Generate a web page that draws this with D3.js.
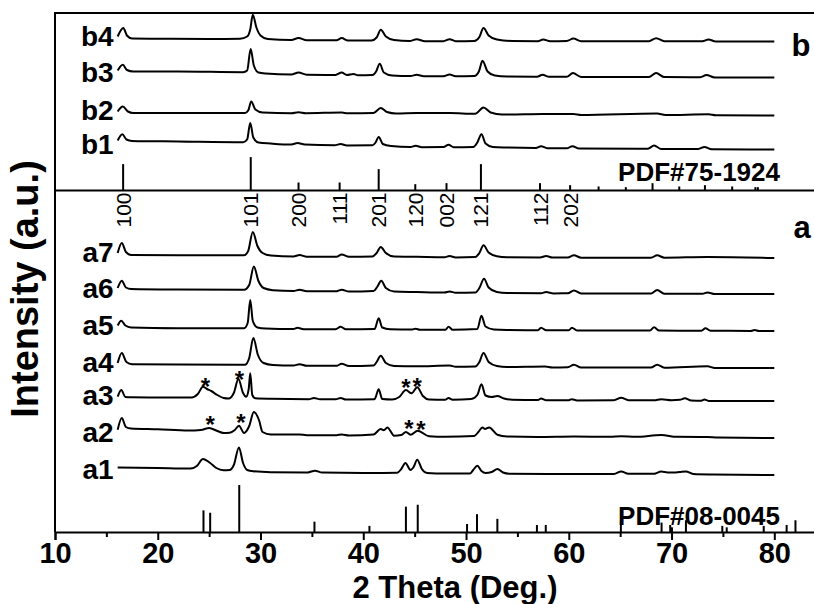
<!DOCTYPE html>
<html>
<head>
<meta charset="utf-8">
<script src="https://cdnjs.cloudflare.com/ajax/libs/d3/7.8.5/d3.min.js"></script>
<style>
  body { margin: 0; background: #fff; }
  text { font-family: "Liberation Sans", Arial, sans-serif; fill: #000; }
</style>
</head>
<body>
<div id="viz"></div>
<script>
// XRD patterns, stacked: [2theta, intensity above own offset]

const topNames = ['b1', 'b2', 'b3', 'b4'];
const topOffsets = [41, 75, 113, 149];

const b1 = [[16.1,9],[16.55,15.3],[16.95,10],[17.5,8.6],[22,8],[28.3,7.2],[28.7,10],[29.0,26.6],[29.3,12],[29.8,7],[31,6],[33.0,5],[33.6,6.5],[34.3,5],[37.2,4.3],[37.8,5.5],[38.4,4],[40.9,4.2],[41.2,7],[41.5,12.6],[41.9,5.5],[42.7,3.5],[44.6,2.5],[45.1,3.8],[45.7,2.3],[47.8,2.5],[48.3,4.8],[48.8,2.3],[50.7,2.5],[51.1,7],[51.5,15.3],[51.9,6],[52.6,2.6],[54,2],[56.8,1.5],[57.3,3.3],[57.9,1.3],[59.8,1.2],[60.35,3.3],[61,1],[67.7,0.8],[68.3,4],[69,0.6],[72.6,0.5],[73.2,2.6],[73.9,0.3],[80,0]];
const b2 = [[16.1,4],[16.6,9],[17.1,4],[17.6,2.6],[28.5,2.6],[28.8,5],[29.1,14],[29.5,6],[30.2,3],[33.0,2.3],[33.7,3.3],[34.4,2.3],[37.9,3],[38.5,2.2],[41.0,2.5],[41.7,7.4],[42.3,3.5],[43.2,2],[45.2,2.4],[48.4,2.4],[50.9,1.8],[51.7,8],[52.4,3],[53.5,1],[57.5,1.5],[60.45,1.6],[61.2,0.6],[68.6,2],[69.4,0.5],[73.6,1.2],[74.3,0.2],[80,0]];
const b3 = [[16.1,7],[16.6,12.7],[17.0,7.5],[17.6,6],[22,6],[28.3,5.3],[28.7,7],[29.04,28.4],[29.35,12],[29.8,5],[30.5,4],[33.0,3],[33.7,5],[34.5,2.8],[37.3,2.6],[37.9,5],[38.4,2.5],[39.05,3.5],[39.5,2.3],[40.9,2.5],[41.25,6],[41.6,13.7],[42.0,5],[42.8,2],[44.6,1.5],[45.2,2.7],[45.9,1.3],[47.8,1.3],[48.4,3],[49.0,1.2],[50.8,1.5],[51.25,6],[51.6,16.7],[52.1,6],[52.8,2],[54,1],[56.9,0.8],[57.45,2.7],[58.1,0.7],[59.8,0.8],[60.4,4.4],[61.2,0.5],[67.8,0.5],[68.5,4.4],[69.3,0.4],[72.8,0.3],[73.4,2.4],[74.2,0.1],[80,0]];
const b4 = [[16.1,5],[16.65,13.4],[17.0,6],[17.5,3],[20,2.8],[25,2.5],[28.0,2.8],[28.7,5],[29.0,12],[29.25,26.7],[29.6,14],[30.0,6],[30.7,2.5],[33.0,1.5],[33.7,3.5],[34.5,1.2],[37.4,1.2],[37.9,3.4],[38.5,1],[40.8,1],[41.3,4],[41.7,11.7],[42.2,5],[43,1.5],[44.5,0.5],[45.2,2.3],[46,0.3],[47.8,0.3],[48.4,2.3],[49,0.3],[50.8,0.5],[51.3,4.5],[51.7,13.4],[52.2,6],[53,2],[54.5,0.5],[57,0.3],[57.5,2],[58.2,0.3],[59.8,0.5],[60.45,3],[61.2,0.3],[67.8,0.3],[68.5,3.3],[69.3,0.3],[73,0.2],[73.6,2],[74.3,0],[80,0]];

const bottomNames = ['a1', 'a2', 'a3', 'a4', 'a5', 'a6', 'a7'];
const bottomOffsets = [57, 94, 131, 164, 201, 238, 274];

const a1 = [[16.1,7.6],[20,7],[23.2,6.5],[23.8,9],[24.4,16],[25.1,12],[25.7,7],[26.4,4.8],[27.0,5],[27.4,10],[27.9,27.6],[28.3,12],[28.7,5],[29.3,3.7],[31,2.8],[34.6,2.6],[35.3,4.3],[36.0,2.4],[40,2],[43.3,2.2],[43.7,6],[44.1,12],[44.6,5],[44.9,8],[45.25,15.3],[45.7,6],[46.2,2],[48,1.5],[50.4,1.6],[50.7,5],[51.1,9.3],[51.5,4],[51.9,2],[52.5,3],[53.05,6],[53.6,2.5],[54.2,1.3],[58,1],[64.4,1],[65.1,3.6],[65.8,1.2],[68.3,1.2],[69.0,3.6],[69.6,2.6],[70.2,2.4],[70.8,3],[71.4,3.6],[72.1,1],[74,0.5],[80,0]];
const a2 = [[16.1,8.3],[16.5,20],[16.9,11],[17.4,9.5],[20,8.7],[23,7.5],[24.2,8],[25.0,10],[25.8,7],[26.4,5],[27.0,5.3],[27.5,8],[27.9,12.3],[28.4,5],[28.9,12],[29.35,26],[29.85,18],[30.2,6],[31.0,3.5],[33.8,3.5],[34.5,2.8],[37.4,2.8],[37.9,3.5],[38.6,2.5],[41.0,3.5],[41.7,9],[42.0,7.7],[42.35,10.6],[43.0,2.3],[43.7,3],[44.15,6],[44.6,3.3],[45.3,7.3],[46.4,1.8],[48,1.3],[50.8,2],[51.2,6],[51.6,10.6],[51.85,9],[52.25,10.6],[53.05,3.3],[54,1.5],[57,1],[60.5,1.5],[64,1.2],[65.1,1.8],[66.5,1.2],[69.0,3],[70.5,1.2],[73.5,1],[74.5,0.5],[80,0]];
const a3 = [[16.1,4.3],[16.45,11],[16.85,4],[17.4,3.7],[20,3.5],[23.3,3.5],[23.9,7],[24.4,14.3],[24.8,12],[25.2,10],[25.8,6],[26.4,3],[26.9,2.5],[27.4,8],[27.85,22],[28.3,8],[28.6,4.3],[28.85,12],[29.0,27.7],[29.2,6],[29.5,2.7],[31,2.2],[34.7,1.8],[35.2,3],[35.8,1.7],[37.3,1.7],[37.8,3],[38.3,1.5],[41.1,1.8],[41.5,11.7],[41.85,2],[42.8,1.5],[43.5,4],[44.15,11],[44.7,7.7],[45.25,13.7],[45.8,5],[46.4,1.5],[48.0,1.3],[48.3,3],[48.7,1.2],[50.5,2],[51.1,6],[51.5,16.7],[51.9,5.5],[52.5,4],[53.05,5],[53.7,2.5],[54.5,1.3],[57.0,1],[57.3,2.5],[57.8,0.8],[60.0,0.8],[60.3,1.8],[60.8,0.6],[64.4,0.8],[65.1,3.3],[65.8,0.8],[68.3,0.7],[69.0,1.8],[70.0,0.8],[70.8,1.2],[71.3,2.7],[71.9,0.5],[72.9,0.3],[73.2,1.5],[73.6,0.1],[80,0]];
const a4 = [[16.1,5],[16.5,15],[16.95,6],[17.5,3.8],[22,3.4],[28.5,3.3],[28.9,10],[29.3,30],[29.75,13],[30.3,5],[31.2,3],[33.2,2.5],[33.8,3.8],[34.5,2.2],[37.4,2.2],[37.9,4.3],[38.6,2],[41.0,2.5],[41.3,6],[41.7,12.3],[42.2,5],[43,2],[45.2,1.7],[48.4,2.5],[49,1.3],[50.9,1.5],[51.3,6],[51.7,15],[52.2,6],[53,2],[54,1],[57.7,1.5],[58.4,0.5],[59.9,0.7],[60.5,3.3],[61.2,0.4],[68,0.4],[68.6,3.3],[69.3,0.3],[73.5,1.7],[74.2,0],[80,0]];
const a5 = [[16.1,5.5],[16.45,10.3],[16.85,5.5],[17.4,3.5],[22,2.8],[28.4,2.7],[28.75,8],[29.0,31],[29.25,10],[29.7,3.5],[30.5,2.5],[33.2,2],[33.6,3.3],[34.2,1.8],[37.3,1.8],[37.8,4.3],[38.3,1.7],[41.1,2],[41.5,12.7],[41.85,3.5],[42.6,1.7],[44.7,1.4],[45.1,2.3],[45.5,1.3],[48.0,1.3],[48.3,4.3],[48.7,1.2],[51.1,2],[51.5,15.3],[51.9,4.5],[52.7,1.5],[54,1],[57.0,0.8],[57.3,3.3],[57.8,0.7],[60.0,0.7],[60.3,3.3],[60.8,0.5],[67.9,0.5],[68.3,3.7],[68.8,0.4],[72.9,0.3],[73.3,2.7],[73.8,0.2],[77.7,0.1],[78.1,1],[78.5,0],[80,0]];
const a6 = [[16.1,6],[16.5,13.3],[16.9,6.5],[17.4,5],[22,4.5],[28.4,4.3],[28.9,9],[29.35,27.6],[29.8,13],[30.3,6],[31.2,3.8],[33.2,3],[33.8,4.3],[34.5,2.8],[37.4,2.8],[37.9,4.3],[38.6,2.5],[41.0,3],[41.35,7],[41.75,13.3],[42.2,6],[43.0,2.5],[45.2,2],[47.9,1.5],[48.4,2.5],[49,1.2],[50.9,1.5],[51.3,6],[51.75,15.3],[52.2,6.5],[53,2],[54,1],[57.3,0.8],[57.8,2],[58.5,0.6],[59.9,0.7],[60.5,3.6],[61.2,0.5],[68,0.4],[68.6,4],[69.3,0.3],[73,0.2],[73.5,1.6],[74.2,0],[80,0]];
const a7 = [[16.1,5],[16.5,15],[16.9,6],[17.4,3],[22,2.7],[28.4,2.7],[28.8,7],[29.25,26],[29.7,12],[30.2,5],[31,2.5],[33.2,1.5],[33.8,3],[34.5,1.3],[37.4,1.3],[37.9,3.4],[38.6,1.2],[40.9,1.5],[41.3,5],[41.7,11],[42.2,5],[43,1.5],[45.2,1.2],[47.9,0.8],[48.4,2],[49,0.6],[50.9,1],[51.3,5],[51.7,12.7],[52.2,5.5],[53.0,1.8],[54,0.8],[57.2,0.5],[57.8,2],[58.4,0.4],[59.9,0.5],[60.5,2.7],[61.2,0.3],[68,0.3],[68.6,2.7],[69.3,0.3],[73.5,1],[80,0]];

// reference cards
const pdfTopPos = [16.63, 29.05, 33.7, 37.7, 41.5, 45.06, 48.1, 51.45, 57.2, 60.13, 62.9, 65.55, 68.15, 70.75, 73.25, 75.9, 78.16, 78.4];
const pdfTopInt = [79, 100, 24, 24, 64, 19, 22, 79, 22, 16, 12, 10, 22, 12, 16, 12, 10, 10];
const pdfBotPos = [24.45, 25.1, 27.93, 35.25, 40.6, 44.15, 45.3, 50.1, 51.07, 53.05, 56.9, 57.76, 65.07, 69.03, 69.87, 70.04, 71.4, 74.94, 75.37, 78.97, 81.2, 82.06];
const pdfBotInt = [46, 41, 100, 22, 13, 54, 58, 17, 38, 28, 15, 15, 25, 20, 15, 10, 25, 13, 10, 13, 15, 25];

const hklLabels = ['100', '101', '200', '111', '201', '120', '002', '121', '112', '202'];
const hklPos = [16.63, 29.05, 33.7, 37.7, 41.5, 45.06, 48.1, 51.45, 57.2, 60.13];

// asterisks on a3 / a2 (bottom panel units)
const starPos = [24.65, 27.95, 44.15, 45.25, 25.1, 28.1, 44.45, 45.6];
const starInt = [150, 157, 149, 150, 112, 114, 108, 107];

const xTicks = [10, 20, 30, 40, 50, 60, 70, 80];
const xMinor = [15, 25, 35, 45, 55, 65, 75];

const topSeries = [b1, b2, b3, b4];
const bottomSeries = [a1, a2, a3, a4, a5, a6, a7];

const dimensions = {
    width: 814,
    height: 604,
    left: 55,
    right: 815.4,
    top: 13,
    divider: 190.5,
    axis: 532
};

const svg = d3.select('#viz').append('svg')
    .attr('width', dimensions.width)
    .attr('height', dimensions.height);

const x = d3.scaleLinear().domain([10, 84]).range([dimensions.left, dimensions.right]);
const yTop = d3.scaleLinear().domain([0, 177.5]).range([dimensions.divider, dimensions.top]);
const yBot = d3.scaleLinear().domain([0, 341.5]).range([dimensions.axis, dimensions.divider]);
const stickTop = d3.scaleLinear().domain([0, 100]).range([0, 33.4]);
const stickBot = d3.scaleLinear().domain([0, 100]).range([0, 47]);

// frame
svg.append('path')
    .attr('d', `M${dimensions.right},${dimensions.top}H${dimensions.left}V${dimensions.axis}`)
    .attr('fill', 'none').attr('stroke', '#000').attr('stroke-width', 2);
svg.append('line')
    .attr('x1', dimensions.left).attr('x2', dimensions.right)
    .attr('y1', dimensions.divider).attr('y2', dimensions.divider)
    .attr('stroke', '#000').attr('stroke-width', 2);

// x axis
const axis = svg.append('g')
    .attr('transform', `translate(0,${dimensions.axis})`)
    .call(d3.axisBottom(x).tickValues(xTicks).tickSize(8).tickFormat(d3.format('d')));
axis.select('.domain').attr('stroke-width', 2);
axis.selectAll('.tick line').attr('stroke-width', 2);
axis.selectAll('.tick text')
    .attr('y', 10.4).attr('dy', '0.71em')
    .style('font-size', '29px').style('font-weight', 'bold')
    .style('font-family', '"Liberation Sans", Arial, sans-serif');

svg.append('g')
    .attr('transform', `translate(0,${dimensions.axis})`)
    .call(d3.axisBottom(x).tickValues(xMinor).tickSize(5).tickFormat(''))
    .call(g => g.select('.domain').remove())
    .selectAll('.tick line').attr('stroke-width', 2);

svg.append('text')
    .attr('x', 455).attr('y', 598)
    .attr('text-anchor', 'middle')
    .style('font-size', '31px').style('font-weight', 'bold')
    .text('2 Theta (Deg.)');

svg.append('text')
    .attr('transform', `translate(38,289) rotate(-90)`)
    .attr('text-anchor', 'middle')
    .style('font-size', '38px').style('font-weight', 'bold')
    .text('Intensity (a.u.)');

// patterns
function drawPanel(series, offsets, names, y) {
    const line = d3.line()
        .x(d => x(d[0]))
        .curve(d3.curveMonotoneX);
    series.forEach((s, i) => {
        svg.append('path')
            .datum(s)
            .attr('d', line.y(d => y(d[1] + offsets[i])))
            .attr('fill', 'none')
            .attr('stroke', '#000')
            .attr('stroke-width', 2)
            .attr('stroke-linejoin', 'round');
        svg.append('text')
            .attr('x', x(16.1) - 4)
            .attr('y', y(offsets[i]) + 4)
            .attr('text-anchor', 'end')
            .style('font-size', '28px').style('font-weight', 'bold')
            .text(names[i]);
    });
}
drawPanel(topSeries, topOffsets, topNames, yTop);
drawPanel(bottomSeries, bottomOffsets, bottomNames, yBot);

// sticks
svg.append('g').selectAll('line')
    .data(pdfTopPos)
    .join('line')
    .attr('x1', d => x(d)).attr('x2', d => x(d))
    .attr('y1', dimensions.divider)
    .attr('y2', (d, i) => dimensions.divider - stickTop(pdfTopInt[i]))
    .attr('stroke', '#000').attr('stroke-width', 2);

svg.append('g').selectAll('line')
    .data(pdfBotPos)
    .join('line')
    .attr('x1', d => x(d)).attr('x2', d => x(d))
    .attr('y1', dimensions.axis)
    .attr('y2', (d, i) => dimensions.axis - stickBot(pdfBotInt[i]))
    .attr('stroke', '#000').attr('stroke-width', 2);

svg.append('text')
    .attr('x', 780).attr('y', 181)
    .attr('text-anchor', 'end')
    .style('font-size', '26px').style('font-weight', 'bold')
    .text('PDF#75-1924');
svg.append('text')
    .attr('x', 780).attr('y', 525)
    .attr('text-anchor', 'end')
    .style('font-size', '26px').style('font-weight', 'bold')
    .text('PDF#08-0045');

// hkl indices
svg.append('g').selectAll('text')
    .data(hklLabels)
    .join('text')
    .attr('transform', (d, i) => `translate(${x(hklPos[i]) + 7.5},${dimensions.divider + 2}) rotate(-90)`)
    .attr('text-anchor', 'end')
    .style('font-size', '21px')
    .text(d => d);

// asterisks
svg.append('g').selectAll('text')
    .data(starPos)
    .join('text')
    .attr('x', d => x(d))
    .attr('y', (d, i) => yBot(starInt[i]) + 13)
    .attr('text-anchor', 'middle')
    .style('font-size', '24px').style('font-weight', 'bold')
    .text('*');

// panel letters
svg.append('text')
    .attr('x', 801).attr('y', 56)
    .attr('text-anchor', 'middle')
    .style('font-size', '31px').style('font-weight', 'bold')
    .text('b');
svg.append('text')
    .attr('x', 802).attr('y', 238)
    .attr('text-anchor', 'middle')
    .style('font-size', '31px').style('font-weight', 'bold')
    .text('a');
</script>
</body>
</html>
